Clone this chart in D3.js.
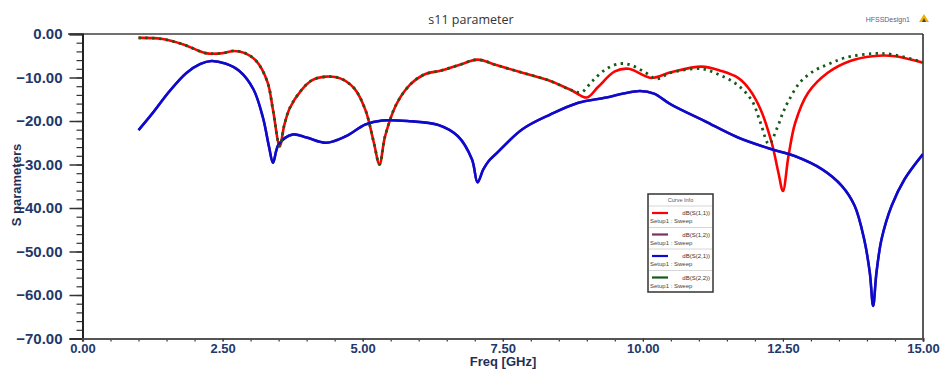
<!DOCTYPE html>
<html>
<head>
<meta charset="utf-8">
<script src="https://cdn.jsdelivr.net/npm/d3@7"></script>
<style>
  html, body { margin: 0; padding: 0; background: #fff; }
  svg { display: block; }
</style>
</head>
<body>
<div id="chart"></div>
<script>
// ---- data: [freq GHz, dB] ----
const s11 = [
  [1.0, -0.9], [1.4, -1.1], [1.8, -2.4], [2.2, -4.4], [2.5, -4.4], [2.7, -3.9],
  [2.9, -4.4], [3.1, -6.2], [3.3, -11.0], [3.4, -17.5], [3.52, -25.8], [3.6, -21.0],
  [3.7, -17.0], [3.9, -13.0], [4.1, -10.6], [4.35, -9.8], [4.6, -10.2], [4.85, -12.5],
  [5.05, -17.5], [5.2, -25.0], [5.3, -30.0], [5.4, -23.5], [5.6, -16.2], [5.85, -11.6],
  [6.1, -9.3], [6.4, -8.4], [6.75, -7.0], [7.05, -5.9], [7.4, -7.2], [7.85, -8.9],
  [8.35, -10.8], [8.75, -13.1], [9.0, -14.6], [9.2, -12.2], [9.5, -8.6], [9.75, -8.0],
  [10.15, -10.1], [10.5, -8.8], [11.05, -7.5], [11.4, -8.5], [11.7, -10.1], [11.9, -12.7],
  [12.1, -17.3], [12.3, -25.0], [12.42, -31.9], [12.5, -36.1], [12.6, -28.0], [12.72, -20.4],
  [12.95, -13.5], [13.3, -8.9], [13.7, -6.2], [14.1, -5.1], [14.5, -5.1], [15.0, -6.6]
];

const s21 = [
  [1.0, -22.1], [1.25, -18.2], [1.55, -13.2], [1.85, -9.0], [2.1, -6.9], [2.3, -6.2],
  [2.55, -6.8], [2.8, -8.5], [3.05, -12.7], [3.22, -19.2], [3.33, -26.0], [3.4, -29.6],
  [3.5, -25.4], [3.75, -23.1], [4.0, -23.8], [4.35, -25.0], [4.7, -23.5], [5.05, -20.8],
  [5.35, -19.9], [5.8, -20.0], [6.35, -20.9], [6.7, -23.5], [6.95, -28.8], [7.05, -34.1],
  [7.15, -31.2], [7.25, -29.2], [7.4, -27.3], [7.85, -21.9], [8.35, -18.5], [8.85, -15.8],
  [9.35, -14.6], [9.65, -13.7], [9.95, -13.1], [10.2, -13.7], [10.5, -16.2], [11.1, -20.0],
  [11.7, -23.8], [12.3, -26.5], [12.7, -28.0], [13.2, -31.1], [13.55, -34.9], [13.78, -39.5],
  [13.95, -47.2], [14.05, -54.8], [14.11, -62.5], [14.17, -54.8], [14.26, -47.2], [14.44, -39.5],
  [14.67, -33.4], [15.0, -27.6]
];

// S12 sits under S21 in the picture (reciprocal network)
const s12 = s21;

const s22 = [
  [1.0, -0.9], [1.4, -1.1], [1.8, -2.4], [2.2, -4.4], [2.5, -4.4], [2.7, -3.9],
  [2.9, -4.4], [3.1, -6.2], [3.3, -11.0], [3.4, -17.5], [3.52, -25.8], [3.6, -21.0],
  [3.7, -17.0], [3.9, -13.0], [4.1, -10.6], [4.35, -9.8], [4.6, -10.2], [4.85, -12.5],
  [5.05, -17.5], [5.2, -25.0], [5.3, -30.0], [5.4, -23.5], [5.6, -16.2], [5.85, -11.6],
  [6.1, -9.3], [6.4, -8.4], [6.75, -7.0], [7.05, -5.9], [7.4, -7.2], [7.85, -8.9],
  [8.35, -10.8], [8.7, -12.8], [8.9, -13.4], [9.1, -10.8], [9.35, -8.0], [9.6, -6.8],
  [9.8, -7.2], [10.05, -8.9], [10.25, -10.3], [10.5, -8.9], [11.05, -8.0], [11.4, -9.6],
  [11.7, -11.8], [11.95, -15.4], [12.1, -20.4], [12.25, -25.3], [12.4, -21.5], [12.5, -18.1],
  [12.6, -15.4], [12.8, -11.2], [13.05, -8.5], [13.3, -7.0], [13.6, -5.5], [14.1, -4.5],
  [14.45, -4.7], [15.0, -6.5]
];

const xTicks = [0, 2.5, 5, 7.5, 10, 12.5, 15];
const yTicks = [0, -10, -20, -30, -40, -50, -60, -70];
const seriesNames = ['dB(S(1,1))', 'dB(S(1,2))', 'dB(S(2,1))', 'dB(S(2,2))'];

const W = 941, H = 372;
const plot = { left: 82.5, right: 923, top: 34, bottom: 338.5 };
const labelInk = '#22386b';

const svg = d3.select('#chart').append('svg')
  .attr('width', W).attr('height', H)
  .attr('viewBox', `0 0 ${W} ${H}`);

const x = d3.scaleLinear().domain([0, 15]).range([plot.left, plot.right]);
const y = d3.scaleLinear().domain([-70, 0]).range([plot.bottom, plot.top]);

// ---- title + design name ----
svg.append('text')
  .attr('x', 471).attr('y', 24)
  .attr('text-anchor', 'middle')
  .attr('font-family', 'Open Sans, Liberation Sans, sans-serif')
  .attr('font-size', 12.5)
  .attr('fill', '#333')
  .text('s11 parameter');

svg.append('text')
  .attr('x', 910).attr('y', 22)
  .attr('text-anchor', 'end')
  .attr('font-family', 'Liberation Sans, sans-serif')
  .attr('font-size', 7)
  .attr('fill', '#5a5f86')
  .text('HFSSDesign1');

// little ansys mark
svg.append('path').attr('d', 'M919,22 L924,14 L929,22 Z').attr('fill', '#f0b400');
svg.append('path').attr('d', 'M922,22 L924,18 L926,22 Z').attr('fill', '#444');

// ---- frame ----
svg.append('line')
  .attr('x1', 68).attr('x2', plot.right).attr('y1', plot.top).attr('y2', plot.top)
  .attr('stroke', '#707070').attr('stroke-width', 2);
svg.append('line')
  .attr('x1', plot.right).attr('x2', plot.right).attr('y1', plot.top).attr('y2', plot.bottom)
  .attr('stroke', '#222').attr('stroke-width', 1.5);

// ---- axes ----
const minorY = d3.range(0, -71, -2);
svg.append('g')
  .attr('transform', `translate(${plot.left},0)`)
  .call(d3.axisLeft(y).tickValues(minorY).tickSize(6).tickFormat(''))
  .call(g => g.select('.domain').remove())
  .selectAll('line').attr('stroke', '#333').attr('stroke-width', 1.2);

const yAxis = svg.append('g')
  .attr('transform', `translate(${plot.left},0)`)
  .call(d3.axisLeft(y).tickValues(yTicks).tickSize(13).tickPadding(7).tickFormat(d3.format('.2f')));
yAxis.select('.domain').attr('stroke', '#222').attr('stroke-width', 2);
yAxis.selectAll('line').attr('stroke', '#333').attr('stroke-width', 1.5);
yAxis.selectAll('text')
  .attr('font-family', 'Liberation Sans, Arial, sans-serif')
  .attr('font-size', 15).attr('font-weight', 'bold')
  .attr('fill', labelInk);

const minorX = d3.range(0, 15.01, 0.5);
svg.append('g')
  .attr('transform', `translate(0,${plot.bottom})`)
  .call(d3.axisBottom(x).tickValues(minorX).tickSize(3).tickFormat(''))
  .call(g => g.select('.domain').remove())
  .selectAll('line').attr('stroke', '#333').attr('stroke-width', 1.2);

const xAxis = svg.append('g')
  .attr('transform', `translate(0,${plot.bottom})`)
  .call(d3.axisBottom(x).tickValues(xTicks).tickSize(3).tickPadding(2).tickFormat(d3.format('.2f')));
xAxis.select('.domain').attr('stroke', '#555').attr('stroke-width', 2.2);
xAxis.selectAll('line').attr('stroke', '#333');
xAxis.selectAll('text')
  .attr('font-family', 'Liberation Sans, Arial, sans-serif')
  .attr('font-size', 13).attr('font-weight', 'bold')
  .attr('fill', labelInk);

// axis titles
svg.append('text')
  .attr('x', 503).attr('y', 366)
  .attr('text-anchor', 'middle')
  .attr('font-family', 'Liberation Sans, Arial, sans-serif')
  .attr('font-size', 13).attr('font-weight', 'bold')
  .attr('fill', '#1f2f55')
  .text('Freq [GHz]');

svg.append('text')
  .attr('transform', 'translate(21,185) rotate(-90)')
  .attr('text-anchor', 'middle')
  .attr('font-family', 'Liberation Sans, Arial, sans-serif')
  .attr('font-size', 13).attr('font-weight', 'bold')
  .attr('fill', '#1f2f55')
  .text('S parameters');

// ---- curves ----
svg.append('clipPath').attr('id', 'plot-clip')
  .append('rect')
  .attr('x', plot.left).attr('y', plot.top - 2)
  .attr('width', plot.right - plot.left).attr('height', plot.bottom - plot.top + 2);

const line = d3.line()
  .x(d => x(d[0]))
  .y(d => y(d[1]))
  .curve(d3.curveCatmullRom.alpha(0.5));

const curves = [
  { name: seriesNames[0], data: s11, color: '#ff0000', width: 2.6, dash: null },
  { name: seriesNames[1], data: s12, color: '#7c2f66', width: 2.4, dash: null },
  { name: seriesNames[2], data: s21, color: '#0a0ad0', width: 2.6, dash: null },
  { name: seriesNames[3], data: s22, color: '#155a1a', width: 2.8, dash: '2.4 4.4' }
];

const gCurves = svg.append('g').attr('clip-path', 'url(#plot-clip)');
curves.forEach(c => {
  gCurves.append('path')
    .datum(c.data)
    .attr('fill', 'none')
    .attr('stroke', c.color)
    .attr('stroke-width', c.width)
    .attr('stroke-linejoin', 'round')
    .attr('stroke-dasharray', c.dash)
    .attr('d', line);
});

// ---- Curve Info legend ----
const lg = svg.append('g').attr('transform', 'translate(648,194)');
const lgW = 65, rowH = 21.5, headH = 12;
lg.append('rect')
  .attr('width', lgW).attr('height', headH + rowH * curves.length)
  .attr('fill', '#fff').attr('stroke', '#333').attr('stroke-width', 1.5);
lg.append('text')
  .attr('x', lgW / 2).attr('y', 8)
  .attr('text-anchor', 'middle')
  .attr('font-family', 'Liberation Sans, sans-serif')
  .attr('font-size', 5.5).attr('fill', '#555')
  .text('Curve Info');

curves.forEach((c, i) => {
  const ry = headH + i * rowH;
  lg.append('line')
    .attr('x1', 1).attr('x2', lgW - 1).attr('y1', ry).attr('y2', ry)
    .attr('stroke', '#ccc').attr('stroke-width', 0.8);
  lg.append('line')
    .attr('x1', 4).attr('x2', 20).attr('y1', ry + 7).attr('y2', ry + 7)
    .attr('stroke', c.color).attr('stroke-width', 2.2);
  lg.append('text')
    .attr('x', 62).attr('y', ry + 9)
    .attr('text-anchor', 'end')
    .attr('font-family', 'Liberation Sans, sans-serif')
    .attr('font-size', 6).attr('fill', '#333')
    .text(c.name);
  lg.append('text')
    .attr('x', 2).attr('y', ry + 17)
    .attr('font-family', 'Liberation Sans, sans-serif')
    .attr('font-size', 6).attr('fill', '#444')
    .text('Setup1 : Sweep');
});
</script>
</body>
</html>
